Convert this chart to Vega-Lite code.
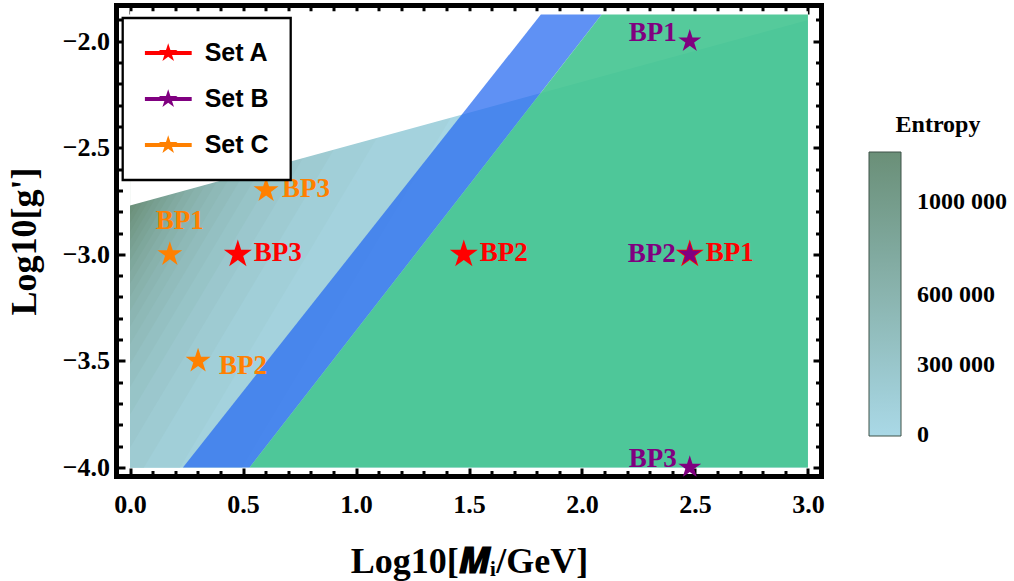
{
  "$schema": "https://vega.github.io/schema/vega-lite/v6.json",
  "autosize": {"type": "none"},
  "padding": {"left": 116.5, "top": 5.5, "right": 192.5, "bottom": 104.5},
  "width": 705,
  "height": 471,
  "background": "white",
  "config": {
    "view": {"stroke": "black", "strokeWidth": 5, "fill": "white"},
    "font": "Liberation Serif",
    "legend": {"strokeWidth": 2.3}
  },
  "datasets": {
    "base": [{"x": 0, "x2": 3, "y": -4, "y2": -1.875, "s": 30400}],
    "levels": [
      {"lvl": 1, "y": -4, "xr": 0.4951, "s": 91100},
      {"lvl": 1, "y": -1.875, "xr": 1.6928, "s": 91100},
      {"lvl": 2, "y": -4, "xr": 0.2215, "s": 151900},
      {"lvl": 2, "y": -1.875, "xr": 1.4192, "s": 151900},
      {"lvl": 3, "y": -4, "xr": 0.0614, "s": 212600},
      {"lvl": 3, "y": -1.875, "xr": 1.2591, "s": 212600},
      {"lvl": 4, "y": -3.9074, "xr": 0, "s": 273400},
      {"lvl": 4, "y": -1.875, "xr": 1.1455, "s": 273400},
      {"lvl": 5, "y": -3.7511, "xr": 0, "s": 334100},
      {"lvl": 5, "y": -1.875, "xr": 1.0574, "s": 334100},
      {"lvl": 6, "y": -3.6234, "xr": 0, "s": 394900},
      {"lvl": 6, "y": -1.875, "xr": 0.9854, "s": 394900},
      {"lvl": 7, "y": -3.5154, "xr": 0, "s": 455600},
      {"lvl": 7, "y": -1.875, "xr": 0.9246, "s": 455600},
      {"lvl": 8, "y": -3.4218, "xr": 0, "s": 516400},
      {"lvl": 8, "y": -1.875, "xr": 0.8719, "s": 516400},
      {"lvl": 9, "y": -3.3393, "xr": 0, "s": 577100},
      {"lvl": 9, "y": -1.875, "xr": 0.8254, "s": 577100},
      {"lvl": 10, "y": -3.2655, "xr": 0, "s": 637900},
      {"lvl": 10, "y": -1.875, "xr": 0.7838, "s": 637900},
      {"lvl": 11, "y": -3.1988, "xr": 0, "s": 698600},
      {"lvl": 11, "y": -1.875, "xr": 0.7461, "s": 698600},
      {"lvl": 12, "y": -3.1378, "xr": 0, "s": 759400},
      {"lvl": 12, "y": -1.875, "xr": 0.7118, "s": 759400},
      {"lvl": 13, "y": -3.0818, "xr": 0, "s": 820100},
      {"lvl": 13, "y": -1.875, "xr": 0.6802, "s": 820100},
      {"lvl": 14, "y": -3.0298, "xr": 0, "s": 880900},
      {"lvl": 14, "y": -1.875, "xr": 0.6509, "s": 880900},
      {"lvl": 15, "y": -2.9815, "xr": 0, "s": 941600},
      {"lvl": 15, "y": -1.875, "xr": 0.6237, "s": 941600},
      {"lvl": 16, "y": -2.9363, "xr": 0, "s": 1002400},
      {"lvl": 16, "y": -1.875, "xr": 0.5982, "s": 1002400},
      {"lvl": 17, "y": -2.8938, "xr": 0, "s": 1063100},
      {"lvl": 17, "y": -1.875, "xr": 0.5743, "s": 1063100},
      {"lvl": 18, "y": -2.8538, "xr": 0, "s": 1123900},
      {"lvl": 18, "y": -1.875, "xr": 0.5517, "s": 1123900},
      {"lvl": 19, "y": -2.8159, "xr": 0, "s": 1184600},
      {"lvl": 19, "y": -1.875, "xr": 0.5303, "s": 1184600}
    ],
    "edge": [{"x": 0, "y": -2.771}, {"x": 3, "y": -1.9}],
    "band": [{"y": -4, "xl": 0.234, "xr": 0.529}, {"y": -1.875, "xl": 1.818, "xr": 2.087}],
    "green": [{"y": -4, "xl": 0.529, "xr": 3}, {"y": -1.875, "xl": 2.087, "xr": 3}],
    "pts": [
      {"set": "Set A", "bp": "BP1", "m": 2.477, "g": -3},
      {"set": "Set A", "bp": "BP2", "m": 1.477, "g": -3},
      {"set": "Set A", "bp": "BP3", "m": 0.477, "g": -3},
      {"set": "Set B", "bp": "BP1", "m": 2.477, "g": -2},
      {"set": "Set B", "bp": "BP2", "m": 2.477, "g": -3},
      {"set": "Set B", "bp": "BP3", "m": 2.477, "g": -4},
      {"set": "Set C", "bp": "BP1", "m": 0.176, "g": -3},
      {"set": "Set C", "bp": "BP2", "m": 0.301, "g": -3.5},
      {"set": "Set C", "bp": "BP3", "m": 0.602, "g": -2.7}
    ]
  },
  "resolve": {"axis": {"x": "independent", "y": "independent"}},
  "layer": [
    {
      "data": {"name": "base"},
      "mark": {"type": "rect"},
      "encoding": {
        "x": {"field": "x", "type": "quantitative",
          "scale": {"domain": [-0.06, 3.06], "nice": false, "zero": false},
          "axis": {
            "orient": "bottom",
            "values": [0,0.1,0.2,0.3,0.4,0.5,0.6,0.7,0.8,0.9,1,1.1,1.2,1.3,1.4,1.5,1.6,1.7,1.8,1.9,2,2.1,2.2,2.3,2.4,2.5,2.6,2.7,2.8,2.9,3],
            "domain": false, "grid": false,
            "tickColor": "black", "tickWidth": 3,
            "tickSize": {"condition": {"test": "abs(datum.value*2-round(datum.value*2))<0.001", "value": -8.5}, "value": -6},
            "labelExpr": "abs(datum.value*2-round(datum.value*2))<0.001 ? format(datum.value,'.1f') : ''",
            "labelFont": "Liberation Serif", "labelFontWeight": "bold", "labelFontSize": 26, "labelColor": "black",
            "labelPadding": 23.5, "labelOverlap": false, "labelFlush": false, "labelBound": false,
            "title": "Log10[𝑴ᵢ/GeV]", "titleFont": "Liberation Serif, DejaVu Serif", "titleFontWeight": "bold", "titleFontSize": 36, "titleColor": "black", "titlePadding": 24
          }
        },
        "x2": {"field": "x2"},
        "y": {"field": "y", "type": "quantitative",
          "scale": {"domain": [-4.0425, -1.8325], "nice": false, "zero": false},
          "axis": {
            "orient": "left",
            "values": [-4,-3.9,-3.8,-3.7,-3.6,-3.5,-3.4,-3.3,-3.2,-3.1,-3,-2.9,-2.8,-2.7,-2.6,-2.5,-2.4,-2.3,-2.2,-2.1,-2,-1.9],
            "domain": false, "grid": false,
            "tickColor": "black", "tickWidth": 3,
            "tickSize": {"condition": {"test": "abs(datum.value*2-round(datum.value*2))<0.001", "value": -8.5}, "value": -6},
            "labelExpr": "abs(datum.value*2-round(datum.value*2))<0.001 ? format(datum.value,'.1f') : ''",
            "labelFont": "Liberation Serif", "labelFontWeight": "bold", "labelFontSize": 26, "labelColor": "black",
            "labelPadding": 15.5, "labelOverlap": false, "labelFlush": false, "labelBound": false,
            "title": "Log10[g']", "titleFont": "Liberation Serif", "titleFontWeight": "bold", "titleFontSize": 36, "titleColor": "black", "titlePadding": 19
          }
        },
        "y2": {"field": "y2"},
        "color": {"field": "s", "type": "quantitative",
          "scale": {"domain": [-5000, 1215000], "range": ["#a9d8e6", "#6a8f78"], "interpolate": "rgb"},
          "legend": {
            "type": "gradient", "direction": "vertical", "orient": "none",
            "legendX": 752.5, "legendY": 107.5, "padding": 0,
            "title": "Entropy", "titleFont": "Liberation Serif", "titleFontWeight": "bold", "titleFontSize": 24, "titleColor": "black",
            "titleAnchor": "middle", "titlePadding": 15,
            "gradientLength": 284, "gradientThickness": 32,
            "gradientStrokeColor": "#3f5349", "gradientStrokeWidth": 1,
            "values": [0, 300000, 600000, 1000000],
            "labelExpr": "datum.value == 1000000 ? '1000 000' : datum.value == 600000 ? '600 000' : datum.value == 300000 ? '300 000' : '0'",
            "labelFont": "Liberation Serif", "labelFontWeight": "bold", "labelFontSize": 24, "labelColor": "black",
            "labelOffset": 16, "labelOverlap": false, "labelBaseline": "middle"
          }
        }
      }
    },
    {
      "data": {"name": "levels"},
      "mark": {"type": "area", "orient": "horizontal", "interpolate": "linear"},
      "encoding": {
        "y": {"field": "y", "type": "quantitative", "scale": {"domain": [-4.0425, -1.8325], "nice": false, "zero": false}, "axis": null},
        "x": {"field": "xr", "type": "quantitative", "scale": {"domain": [-0.06, 3.06], "nice": false, "zero": false}, "axis": null, "stack": null},
        "x2": {"datum": 0},
        "color": {"field": "s", "type": "quantitative",
          "scale": {"domain": [-5000, 1215000], "range": ["#a9d8e6", "#6a8f78"], "interpolate": "rgb"}}
      }
    },
    {
      "data": {"name": "edge"},
      "mark": {"type": "area", "color": "white", "opacity": 1},
      "encoding": {
        "x": {"field": "x", "type": "quantitative",
          "scale": {"domain": [-0.06, 3.06], "nice": false, "zero": false},
          "axis": {
            "orient": "top",
            "values": [0,0.1,0.2,0.3,0.4,0.5,0.6,0.7,0.8,0.9,1,1.1,1.2,1.3,1.4,1.5,1.6,1.7,1.8,1.9,2,2.1,2.2,2.3,2.4,2.5,2.6,2.7,2.8,2.9,3],
            "domain": false, "grid": false, "labels": false, "title": null,
            "tickColor": "black", "tickWidth": 3,
            "tickSize": {"condition": {"test": "abs(datum.value*2-round(datum.value*2))<0.001", "value": -8.5}, "value": -6}
          }
        },
        "y": {"field": "y", "type": "quantitative", "stack": null,
          "scale": {"domain": [-4.0425, -1.8325], "nice": false, "zero": false},
          "axis": {
            "orient": "right",
            "values": [-4,-3.9,-3.8,-3.7,-3.6,-3.5,-3.4,-3.3,-3.2,-3.1,-3,-2.9,-2.8,-2.7,-2.6,-2.5,-2.4,-2.3,-2.2,-2.1,-2,-1.9],
            "domain": false, "grid": false, "labels": false, "title": null,
            "tickColor": "black", "tickWidth": 3,
            "tickSize": {"condition": {"test": "abs(datum.value*2-round(datum.value*2))<0.001", "value": -8.5}, "value": -6}
          }
        },
        "y2": {"datum": -1.86}
      }
    },
    {
      "data": {"name": "band"},
      "mark": {"type": "area", "orient": "horizontal", "color": "#2a6cf0", "opacity": 0.75},
      "encoding": {
        "y": {"field": "y", "type": "quantitative", "scale": {"domain": [-4.0425, -1.8325], "nice": false, "zero": false}, "axis": null},
        "x": {"field": "xl", "type": "quantitative", "scale": {"domain": [-0.06, 3.06], "nice": false, "zero": false}, "axis": null, "stack": null},
        "x2": {"field": "xr"}
      }
    },
    {
      "data": {"name": "green"},
      "mark": {"type": "area", "orient": "horizontal", "color": "#46c693", "opacity": 0.92},
      "encoding": {
        "y": {"field": "y", "type": "quantitative", "scale": {"domain": [-4.0425, -1.8325], "nice": false, "zero": false}, "axis": null},
        "x": {"field": "xl", "type": "quantitative", "scale": {"domain": [-0.06, 3.06], "nice": false, "zero": false}, "axis": null, "stack": null},
        "x2": {"field": "xr"}
      }
    },
    {
      "data": {"name": "pts"},
      "mark": {"type": "point", "filled": true, "opacity": 1, "strokeWidth": 0, "clip": true,
        "shape": "M0,-1L0.2245,-0.309L0.9511,-0.309L0.3633,0.118L0.5878,0.809L0,0.382L-0.5878,0.809L-0.3633,0.118L-0.9511,-0.309L-0.2245,-0.309Z"},
      "encoding": {
        "x": {"field": "m", "type": "quantitative", "scale": {"domain": [-0.06, 3.06], "nice": false, "zero": false}, "axis": null},
        "y": {"field": "g", "type": "quantitative", "scale": {"domain": [-4.0425, -1.8325], "nice": false, "zero": false}, "axis": null},
        "size": {"condition": [{"test": "datum.set == 'Set A'", "value": 864}, {"test": "datum.set == 'Set B'", "value": 585}], "value": 689},
        "fill": {"field": "set", "type": "nominal",
          "scale": {"domain": ["Set A", "Set B", "Set C"], "range": ["#ff0000", "#800080", "#ff8000"]},
          "legend": {
            "orient": "none", "legendX": 6.2, "legendY": 12.5, "title": null,
            "padding": 22, "strokeColor": "black", "fillColor": "white",
            "symbolType": "M-1,-0.085H1V0.085H-1Z M0,-0.42L0.0943,-0.1298L0.3994,-0.1298L0.1526,0.0496L0.2469,0.3398L0,0.1604L-0.2469,0.3398L-0.1526,0.0496L-0.3994,-0.1298L-0.0943,-0.1298Z",
            "symbolSize": 2209, "symbolStrokeWidth": 0, "symbolOpacity": 1,
            "clipHeight": 26,
            "labelFont": "Liberation Sans", "labelFontWeight": "bold", "labelFontSize": 25, "labelColor": "black",
            "labelOffset": 13, "rowPadding": 20
          }
        }
      }
    },
    {
      "data": {"name": "pts"},
      "transform": [{"filter": "datum.set == 'Set A' || (datum.set == 'Set C' && datum.bp == 'BP3')"}],
      "mark": {"type": "text", "align": "left", "baseline": "middle", "dx": 16, "dy": -1, "font": "Liberation Serif", "fontWeight": "bold", "fontSize": 27},
      "encoding": {
        "x": {"field": "m", "type": "quantitative", "scale": {"domain": [-0.06, 3.06], "nice": false, "zero": false}, "axis": null},
        "y": {"field": "g", "type": "quantitative", "scale": {"domain": [-4.0425, -1.8325], "nice": false, "zero": false}, "axis": null},
        "text": {"field": "bp"},
        "color": {"condition": {"test": "datum.set == 'Set A'", "value": "#ff0000"}, "value": "#ff8000"}
      }
    },
    {
      "data": {"name": "pts"},
      "transform": [{"filter": "datum.set == 'Set C' && datum.bp == 'BP2'"}],
      "mark": {"type": "text", "align": "left", "baseline": "middle", "dx": 21, "dy": 5, "font": "Liberation Serif", "fontWeight": "bold", "fontSize": 27, "color": "#ff8000"},
      "encoding": {
        "x": {"field": "m", "type": "quantitative", "scale": {"domain": [-0.06, 3.06], "nice": false, "zero": false}, "axis": null},
        "y": {"field": "g", "type": "quantitative", "scale": {"domain": [-4.0425, -1.8325], "nice": false, "zero": false}, "axis": null},
        "text": {"field": "bp"}
      }
    },
    {
      "data": {"name": "pts"},
      "transform": [{"filter": "datum.set == 'Set C' && datum.bp == 'BP1'"}],
      "mark": {"type": "text", "align": "center", "baseline": "middle", "dx": 10, "dy": -33, "font": "Liberation Serif", "fontWeight": "bold", "fontSize": 27, "color": "#ff8000"},
      "encoding": {
        "x": {"field": "m", "type": "quantitative", "scale": {"domain": [-0.06, 3.06], "nice": false, "zero": false}, "axis": null},
        "y": {"field": "g", "type": "quantitative", "scale": {"domain": [-4.0425, -1.8325], "nice": false, "zero": false}, "axis": null},
        "text": {"field": "bp"}
      }
    },
    {
      "data": {"name": "pts"},
      "transform": [{"filter": "datum.set == 'Set B' && datum.bp == 'BP2'"}],
      "mark": {"type": "text", "align": "right", "baseline": "middle", "dx": -14, "dy": 0, "font": "Liberation Serif", "fontWeight": "bold", "fontSize": 27, "color": "#800080"},
      "encoding": {
        "x": {"field": "m", "type": "quantitative", "scale": {"domain": [-0.06, 3.06], "nice": false, "zero": false}, "axis": null},
        "y": {"field": "g", "type": "quantitative", "scale": {"domain": [-4.0425, -1.8325], "nice": false, "zero": false}, "axis": null},
        "text": {"field": "bp"}
      }
    },
    {
      "data": {"name": "pts"},
      "transform": [{"filter": "datum.set == 'Set B' && datum.bp != 'BP2'"}],
      "mark": {"type": "text", "align": "right", "baseline": "middle", "dx": -13, "dy": -8, "font": "Liberation Serif", "fontWeight": "bold", "fontSize": 27, "color": "#800080"},
      "encoding": {
        "x": {"field": "m", "type": "quantitative", "scale": {"domain": [-0.06, 3.06], "nice": false, "zero": false}, "axis": null},
        "y": {"field": "g", "type": "quantitative", "scale": {"domain": [-4.0425, -1.8325], "nice": false, "zero": false}, "axis": null},
        "text": {"field": "bp"}
      }
    }
  ]
}
